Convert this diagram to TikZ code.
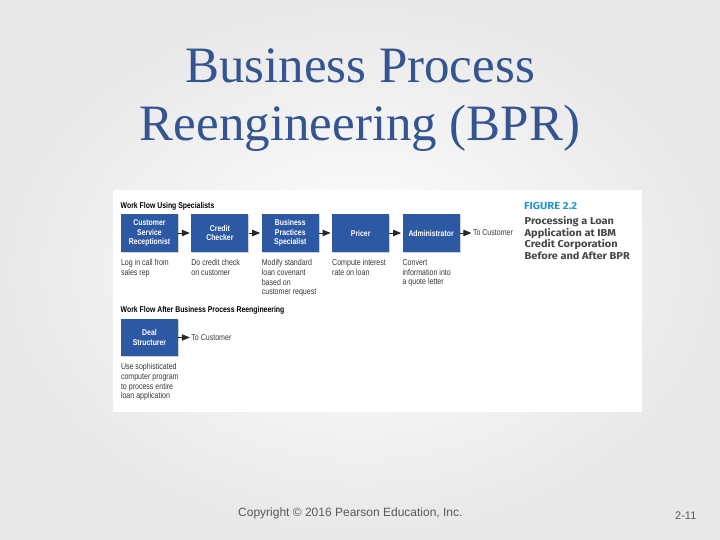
\documentclass[tikz,border=0pt]{standalone}
\usepackage{fontspec}
\setmainfont{Liberation Sans}
\newfontfamily\condfont[FakeStretch=0.82]{Liberation Sans}
\newfontfamily\titlefont{Liberation Serif}
\newfontfamily\capfont[FakeStretch=1.1]{Fira Sans}
\usetikzlibrary{arrows,shapes,positioning,shadows}
\definecolor{boxblue}{RGB}{44,88,164}
\definecolor{titleblue}{RGB}{52,85,145}
\definecolor{figcyan}{RGB}{35,150,210}
\definecolor{captext}{RGB}{70,70,70}
\definecolor{notetext}{RGB}{55,55,55}
\tikzset{
	specialist/.style = {rectangle, fill = boxblue, text = white,
		minimum width = 57pt, minimum height = 38pt, inner sep = 0,
		align = center,
		font = \condfont\bfseries\fontsize{8.4}{9.7}\selectfont,
		drop shadow = {shadow xshift = 1pt, shadow yshift = -1pt,
			opacity = .35}},
	note/.style = {inner sep = 0, align = left, text = notetext,
		font = \condfont\fontsize{8.6}{9.7}\selectfont},
	heading/.style = {inner sep = 0, anchor = base west,
		font = \condfont\bfseries\fontsize{8.4}{10}\selectfont},
	customer/.style = {inner sep = 0, text = notetext,
		font = \condfont\fontsize{8.6}{10}\selectfont},
	flow/.style = {draw = black!85, line width = .8pt, -triangle 45,
		shorten >= 1.5pt},
}

\begin{document}
\begin{tikzpicture}[x = 1pt, y = -1pt]
\useasboundingbox (0,0) rectangle (720,540);
\shade[inner color = white, outer color = black!9] (0,0) rectangle (720,540);
\fill[white] (113,190) rectangle (642,412);
% slide title
\node[anchor = north, inner sep = 0, align = center, text = titleblue,
	font = \titlefont\fontsize{51}{58}\selectfont] (title) at (360,49)
	{Business Process\\Reengineering (BPR)};
% before
\node[heading] (before) at (120.5,208) {Work Flow Using Specialists};
\node[specialist] (recep) at (149.5,233) {Customer\\Service\\Receptionist};
\node[specialist, right = 13pt of recep] (checker) {Credit\\Checker};
\node[specialist, right = 13pt of checker] (practices) {Business\\Practices\\Specialist};
\node[specialist, right = 13pt of practices] (pricer) {Pricer};
\node[specialist, right = 13pt of pricer] (admin) {Administrator};
\node[customer, right = 13pt of admin] (admincust) {To Customer};
\draw[flow] (recep) -- (checker);
\draw[flow] (checker) -- (practices);
\draw[flow] (practices) -- (pricer);
\draw[flow] (pricer) -- (admin);
\draw[flow] (admin) -- (admincust);
\node[note, below = 7pt of recep.south west, anchor = north west] (recepnote)
	{Log in call from\\sales rep};
\node[note, below = 7pt of checker.south west, anchor = north west] (checkernote)
	{Do credit check\\on customer};
\node[note, below = 7pt of practices.south west, anchor = north west] (practicesnote)
	{Modify standard\\loan covenant\\based on\\customer request};
\node[note, below = 7pt of pricer.south west, anchor = north west] (pricernote)
	{Compute interest\\rate on loan};
\node[note, below = 7pt of admin.south west, anchor = north west] (adminnote)
	{Convert\\information into\\a quote letter};
% after
\node[heading] (after) at (120.5,312) {Work Flow After Business Process Reengineering};
\node[specialist, minimum height = 37pt] (deal) at (149.5,337.5) {Deal\\Structurer};
\node[customer, right = 13pt of deal] (dealcust) {To Customer};
\draw[flow] (deal) -- (dealcust);
\node[note, below = 7pt of deal.south west, anchor = north west] (dealnote)
	{Use sophisticated\\computer program\\to process entire\\loan application};
% figure caption
\node[anchor = base west, inner sep = 0, text = figcyan,
	font = \capfont\bfseries\fontsize{10.2}{11}\selectfont] (figno) at (524,210)
	{FIGURE 2.2};
\node[anchor = north west, inner sep = 0, align = left, text = captext,
	font = \capfont\bfseries\fontsize{10}{11.7}\selectfont] (figtitle) at (524.5,216)
	{Processing a Loan\\Application at IBM\\Credit Corporation\\Before and After BPR};
% footer
\node[anchor = base west, inner sep = 0, text = black!65,
	font = \fontsize{12}{14}\selectfont] (copyright) at (238,516.5)
	{Copyright © 2016 Pearson Education, Inc.};
\node[anchor = base west, inner sep = 0, text = black!65,
	font = \fontsize{11}{13}\selectfont] (pageno) at (675,519) {2-11};
\end{tikzpicture}
\end{document}
